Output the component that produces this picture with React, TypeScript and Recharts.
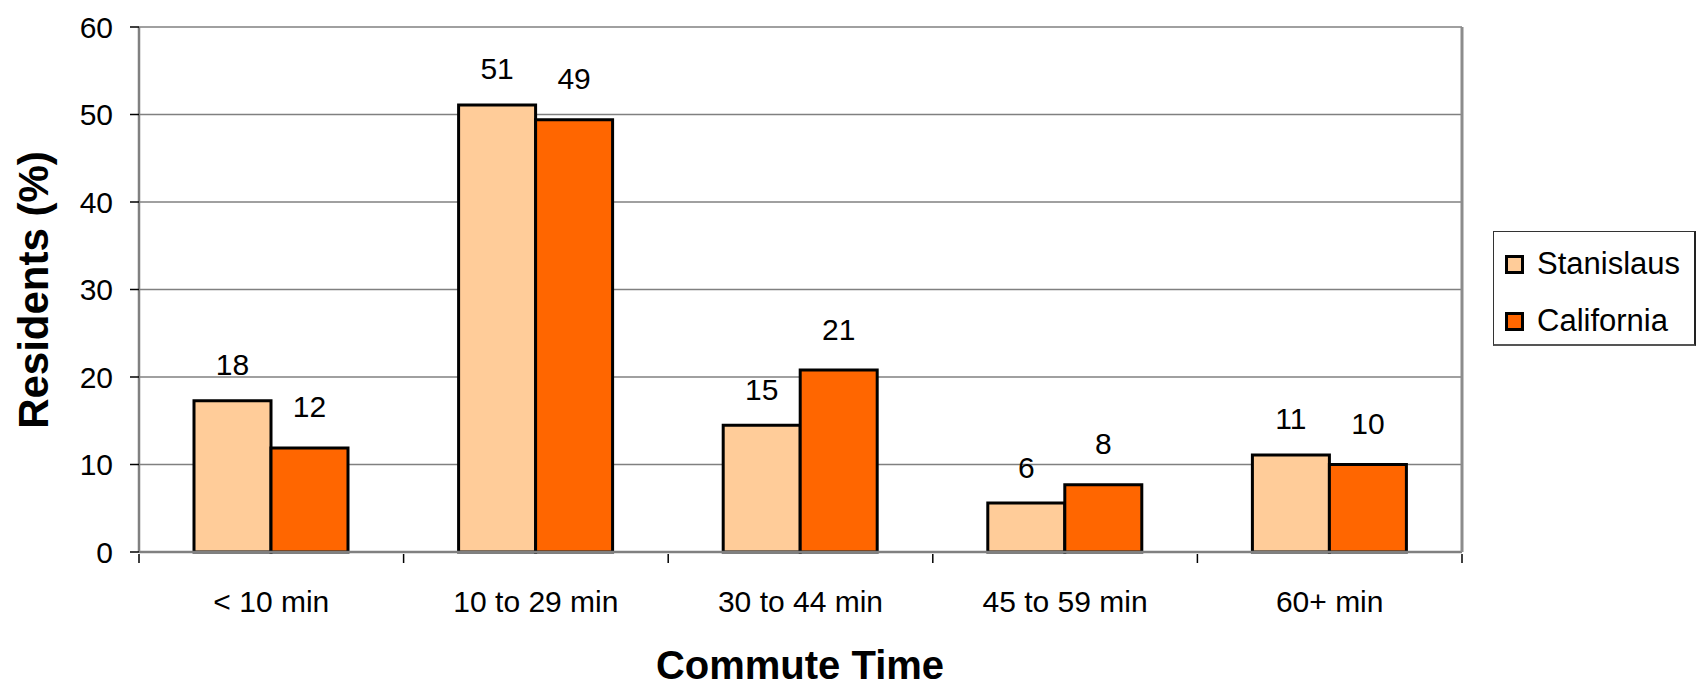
import { BarChart, Bar, XAxis, YAxis, CartesianGrid, Legend, LabelList } from "recharts";

// commute time shares
const categories = ["< 10 min", "10 to 29 min", "30 to 44 min", "45 to 59 min", "60+ min"];
const stanislaus = [17.3, 51.1, 14.5, 5.6, 11.1];
const california = [11.9, 49.4, 20.8, 7.7, 10.0];
const stanislausLabels = ["18", "51", "15", "6", "11"];
const californiaLabels = ["12", "49", "21", "8", "10"];
const yTicks = [0, 10, 20, 30, 40, 50, 60];

const data = categories.map((c, i) => ({
  name: c,
  Stanislaus: stanislaus[i],
  California: california[i],
}));

const FONT = '"Liberation Sans", Arial, sans-serif';
const AXIS_GRAY = "#808080";

const XTick = (props: any) => {
  const { x, y, payload, index } = props;
  const half = payload.offset ?? 132;
  return (
    <g>
      <line x1={x - half} y1={y} x2={x - half} y2={y + 9} stroke="#000" strokeWidth={1.5} />
      {index === categories.length - 1 && (
        <line x1={x + half} y1={y} x2={x + half} y2={y + 9} stroke="#000" strokeWidth={1.5} />
      )}
      <text x={x} y={y + 58} textAnchor="middle" fontSize={30} fontFamily={FONT} fill="#000">
        {payload.value}
      </text>
    </g>
  );
};

const makeLabel = (labels: string[], lift: number) => (props: any) => {
  const { x, y, width, index } = props;
  return (
    <text
      x={x + width / 2}
      y={y - lift}
      textAnchor="middle"
      dominantBaseline="central"
      fontSize={30}
      fontFamily={FONT}
      fill="#000"
    >
      {labels[index]}
    </text>
  );
};

const LegendBox = () => (
  <div
    style={{
      width: 203,
      height: 115,
      boxSizing: "border-box",
      borderTop: "1px solid #333",
      borderLeft: "1px solid #333",
      borderRight: "2px solid #222",
      borderBottom: "2px solid #555",
      background: "#fff",
      fontFamily: FONT,
      fontSize: 31,
      color: "#000",
      paddingTop: 12,
      paddingLeft: 11,
    }}
  >
    {[
      { name: "Stanislaus", color: "#FFCC99" },
      { name: "California", color: "#FF6600" },
    ].map((it) => (
      <div key={it.name} style={{ display: "flex", alignItems: "center", height: 40, marginBottom: 17 }}>
        <span
          style={{
            display: "inline-block",
            width: 19,
            height: 19,
            boxSizing: "border-box",
            background: it.color,
            border: "3px solid #000",
            marginRight: 13,
          }}
        />
        <span>{it.name}</span>
      </div>
    ))}
  </div>
);

export default function App() {
  return (
    <div style={{ position: "absolute", left: 0, top: 0, background: "#fff" }}>
      <BarChart
        width={1697}
        height={689}
        data={data}
        margin={{ top: 27, right: 234, bottom: 0, left: 0 }}
        barGap={0}
        barSize={77}
      >
        <CartesianGrid vertical={false} stroke={AXIS_GRAY} strokeWidth={1.3} />
        <XAxis
          dataKey="name"
          height={137}
          tickLine={false}
          tickSize={0}
          axisLine={{ stroke: AXIS_GRAY, strokeWidth: 2.5 }}
          tick={<XTick />}
          interval={0}
          label={{
            content: () => (
              <text x={800} y={679} textAnchor="middle" fontSize={40} fontWeight="bold" fontFamily={FONT} fill="#000">
                Commute Time
              </text>
            ),
          }}
        />
        <XAxis xAxisId="top" orientation="top" dataKey="name" height={0} tick={false} tickLine={false} axisLine={{ stroke: "#8c8c8c", strokeWidth: 3 }} />
        <YAxis
          width={139}
          domain={[0, 60]}
          ticks={yTicks}
          interval={0}
          tickSize={9}
          tickMargin={17}
          tickLine={{ stroke: "#000", strokeWidth: 1.5 }}
          axisLine={{ stroke: AXIS_GRAY, strokeWidth: 2.5 }}
          tick={{ fontSize: 30, fontFamily: FONT, fill: "#000" }}
          label={{
            content: () => (
              <text
                x={33}
                y={290}
                transform="rotate(-90 33 290)"
                textAnchor="middle"
                dominantBaseline="central"
                fontSize={42}
                fontWeight="bold"
                fontFamily={FONT}
                fill="#000"
              >
                Residents (%)
              </text>
            ),
          }}
        />
        <YAxis yAxisId="right" orientation="right" width={1} domain={[0, 60]} tick={false} tickLine={false} axisLine={{ stroke: "#8c8c8c", strokeWidth: 3 }} />
        <Legend
          layout="horizontal"
          verticalAlign="middle"
          align="center"
          content={<LegendBox />}
          wrapperStyle={{ left: 1493, top: 231, width: 203, height: 115 }}
        />
        <Bar dataKey="Stanislaus" fill="#FFCC99" stroke="#000" strokeWidth={3} isAnimationActive={false}>
          <LabelList dataKey="Stanislaus" content={makeLabel(stanislausLabels, 36)} />
        </Bar>
        <Bar dataKey="California" fill="#FF6600" stroke="#000" strokeWidth={3} isAnimationActive={false}>
          <LabelList dataKey="California" content={makeLabel(californiaLabels, 41)} />
        </Bar>
      </BarChart>
    </div>
  );
}
